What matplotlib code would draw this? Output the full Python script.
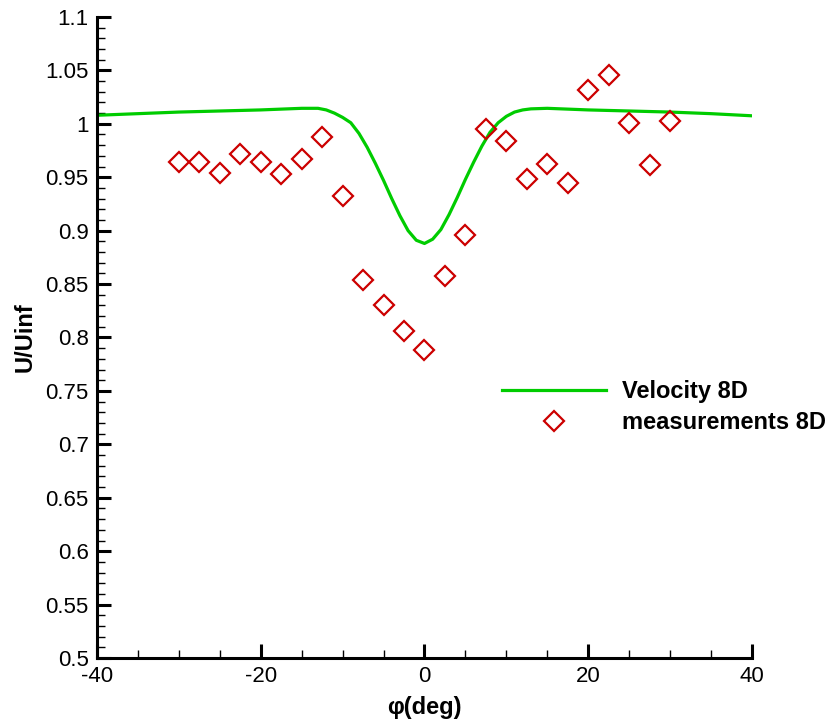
import matplotlib.pyplot as plt
from matplotlib.ticker import MultipleLocator

# simulated velocity profile at 8D
phi_line = [-40, -35, -30, -25, -20, -15, -13, -12, -11, -10, -9, -8, -7, -6,
            -5, -4, -3, -2, -1, 0, 1, 2, 3, 4, 5, 6, 7, 8, 9, 10, 11, 12, 13,
            15, 20, 25, 30, 35, 40]
u_line = [1.008, 1.0095, 1.011, 1.012, 1.013, 1.0145, 1.0145, 1.013, 1.010,
          1.006, 1.001, 0.991, 0.978, 0.963, 0.947, 0.930, 0.914, 0.900,
          0.891, 0.888, 0.892, 0.901, 0.915, 0.931, 0.948, 0.964, 0.979,
          0.992, 1.001, 1.007, 1.011, 1.013, 1.014, 1.0145, 1.013, 1.012,
          1.011, 1.0095, 1.0075]

# measured points at 8D
phi_meas = [-30, -27.5, -25, -22.5, -20, -17.5, -15, -12.5, -10, -7.5, -5,
            -2.5, 0, 2.5, 5, 7.5, 10, 12.5, 15, 17.5, 20, 22.5, 25, 27.5, 30]
u_meas = [0.964, 0.964, 0.954, 0.972, 0.964, 0.953, 0.967, 0.988, 0.932,
          0.854, 0.830, 0.806, 0.788, 0.858, 0.896, 0.995, 0.984, 0.948,
          0.962, 0.945, 1.032, 1.046, 1.001, 0.961, 1.003]

y_ticks = [0.5, 0.55, 0.6, 0.65, 0.7, 0.75, 0.8, 0.85, 0.9, 0.95, 1, 1.05, 1.1]
y_ticklabels = ['0.5', '0.55', '0.6', '0.65', '0.7', '0.75', '0.8', '0.85',
                '0.9', '0.95', '1', '1.05', '1.1']

plt.rcParams['font.family'] = 'Liberation Sans'
plt.rcParams['axes.unicode_minus'] = False

fig = plt.figure(figsize=(8.26, 7.22), dpi=100)
ax = fig.add_axes([0.1174, 0.0886, 0.7930, 0.8879])

ax.plot(phi_line, u_line, color='#00cc00', lw=2.3, label='Velocity 8D')
ax.plot(phi_meas, u_meas, 'D', ms=10.5, mfc='none', mec='#cc0000', mew=1.6,
        label='measurements 8D')

ax.set_xlim(-40, 40)
ax.set_ylim(0.5, 1.1)
ax.xaxis.set_major_locator(MultipleLocator(20))
ax.xaxis.set_minor_locator(MultipleLocator(5))
ax.yaxis.set_minor_locator(MultipleLocator(0.01))
ax.set_yticks(y_ticks)
ax.set_yticklabels(y_ticklabels)

for s in ['top', 'right']:
    ax.spines[s].set_visible(False)
for s in ['left', 'bottom']:
    ax.spines[s].set_linewidth(2.2)
ax.tick_params(which='major', direction='in', length=10, width=2.2,
               labelsize=16, pad=6)
ax.tick_params(which='minor', direction='in', length=6, width=1.0)

ax.set_xlabel('φ(deg)', fontsize=17, fontweight='bold', labelpad=6,
              family=['Liberation Sans', 'DejaVu Sans'])
ax.set_ylabel('U/Uinf', fontsize=17, fontweight='bold', labelpad=6)

ax.legend(loc='upper left', bbox_to_anchor=(0.593, 0.490),
          bbox_transform=fig.transFigure, frameon=False, borderpad=0,
          handlelength=4.4, handletextpad=0.7, labelspacing=0.33,
          prop={'weight': 'bold', 'size': 17})

fig.savefig('out.png', dpi=100)
